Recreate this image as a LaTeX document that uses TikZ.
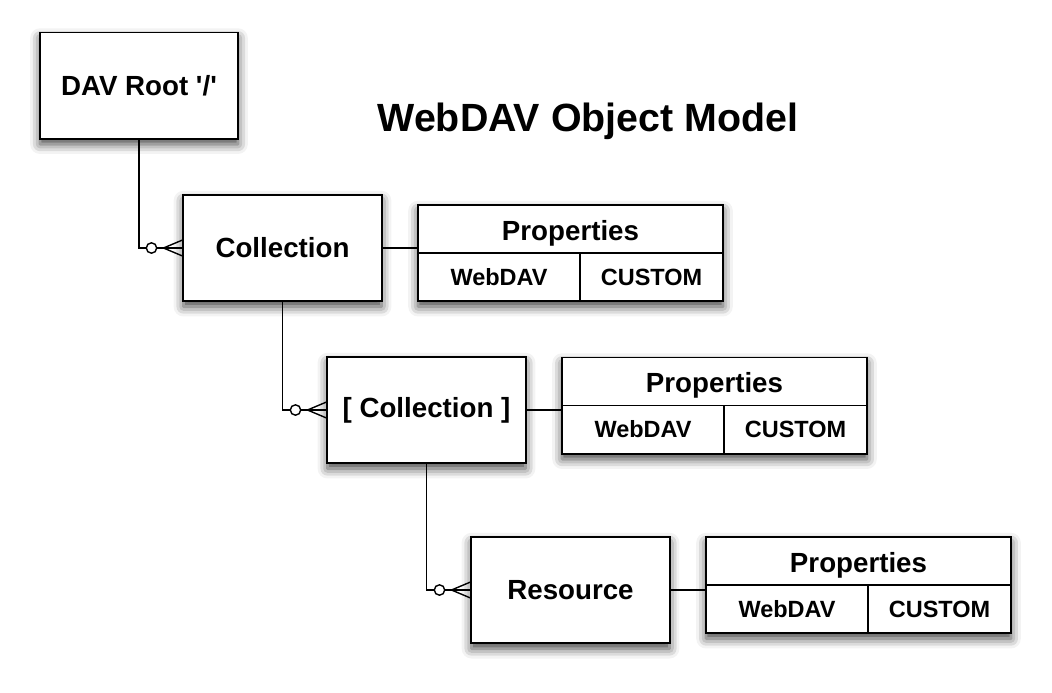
\documentclass[tikz,border=0pt]{standalone}
\usepackage{fontspec}
\setmainfont{Liberation Sans}
\usetikzlibrary{calc,shadows.blur}

\begin{document}
\begin{tikzpicture}[x=0.025cm,y=-0.025cm,
  box/.style={draw,line width=1.4pt,fill=white,
    blur shadow={shadow xshift=0pt,shadow yshift=-4pt,shadow blur radius=7pt,shadow opacity=75},
    minimum width=4.95cm,minimum height=2.65cm,
    font=\fontsize{19.7}{24}\selectfont\bfseries},
  proptable/.style={box,minimum width=7.62cm,minimum height=2.4cm},
  head/.style={font=\fontsize{19.7}{24}\selectfont\bfseries},
  cell/.style={font=\fontsize{16.7}{20}\selectfont\bfseries},
  link/.style={line width=1pt}]
 \useasboundingbox (0,0) rectangle (1052,692);
 % title
 \node[font=\fontsize{28}{34}\selectfont\bfseries] (title) at (588,121) {WebDAV Object Model};
 % entities
 \node[box] (root) at (139,85.5) {DAV Root \textquotesingle/\textquotesingle};
 \node[box] (coll) at (282.5,248) {Collection};
 \node[box] (sub) at (426.5,410) {[ Collection ]};
 \node[box] (res) at (570.5,590) {Resource};
 % property tables
 \node[proptable] (props1) at (570.5,253) {};
 \node[proptable] (props2) at (714.5,405.5) {};
 \node[proptable] (props3) at (858.5,585) {};
 \foreach \p in {props1,props2,props3} {
  \draw[line width=1.4pt] (\p.west) -- (\p.east);
  \draw[line width=1.4pt] ($(\p.center)+(9.5,0)$) -- ($(\p.south)+(9.5,0)$);
  \node[head] (\p-head) at ($(\p.center)+(0,-20)$) {Properties};
  \node[cell] (\p-left) at ($(\p.center)+(-71.5,24)$) {WebDAV};
  \node[cell] (\p-right) at ($(\p.center)+(81,24)$) {CUSTOM};
 }
 % entity to properties
 \draw[link] (coll.east) -- (coll.east -| props1.west);
 \draw[link] (sub.east) -- (sub.east -| props2.west);
 \draw[link] (res.east) -- (res.east -| props3.west);
 % parent to child, zero or many
 \foreach \a/\b in {root/coll,coll/sub,sub/res} {
  \draw[link] (\a.south) |- (\b.west);
  \draw[link] ($(\b.west)+(0,-8)$) -- ($(\b.west)+(-19,0)$) -- ($(\b.west)+(0,8)$);
  \draw[link,fill=white] ($(\b.west)+(-31,0)$) circle (0.13cm);
 }
\end{tikzpicture}
\end{document}
